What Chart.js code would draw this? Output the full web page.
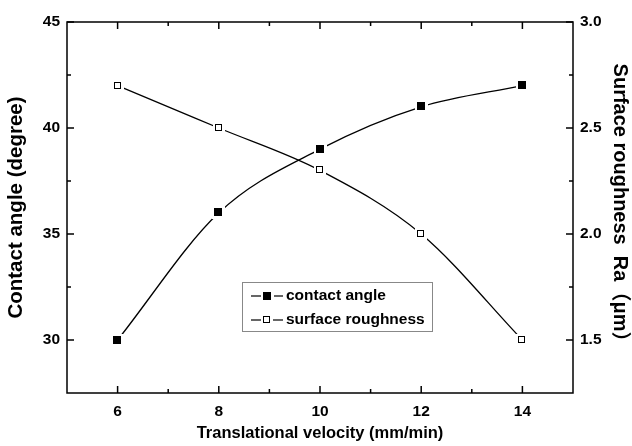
<!DOCTYPE html>
<html>
<head>
<meta charset="utf-8">
<script src="https://cdn.jsdelivr.net/npm/chart.js@4/dist/chart.umd.min.js"></script>
<style>
  body { margin: 0; background: #fff; }
  #myChart { display: block; }
</style>
</head>
<body>
<canvas id="myChart" width="632" height="446"></canvas>
<script>
// data
const velocity = [6, 8, 10, 12, 14];
const contactAngle = [30, 36, 39, 41, 42];
const roughness = [2.7, 2.5, 2.3, 2.0, 1.5];

const xTicks = [6, 8, 10, 12, 14];
const angleTicks = [30, 35, 40, 45];
const roughTicks = [1.5, 2.0, 2.5, 3.0];

const FONT = "'Liberation Sans', Arial, 'Noto Sans CJK SC', sans-serif";
const ctx = document.getElementById("myChart");

const toPoints = (xs, ys) => xs.map((x, i) => ({ x: x, y: ys[i] }));
const midpoints = (arr) => arr.slice(1).map((v, i) => (v + arr[i]) / 2);

// square markers with a white halo so the line stops short of them
const makeMarker = (filled) => {
  const c = document.createElement("canvas");
  const size = filled ? 13 : 12;
  const s = filled ? 8 : 7;
  c.width = size;
  c.height = size;
  const g = c.getContext("2d");
  g.fillStyle = "#fff";
  g.fillRect(0, 0, size, size);
  const o = Math.floor((size - s) / 2);
  if (filled) {
    g.fillStyle = "#000";
    g.fillRect(o, o, s, s);
  } else {
    g.strokeStyle = "#000";
    g.lineWidth = 1;
    g.strokeRect(o + 0.5, o + 0.5, s - 1, s - 1);
  }
  return c;
};
const filledMarker = makeMarker(true);
const hollowMarker = makeMarker(false);

// keep the marker images crisp
const crispPoints = {
  id: "crispPoints",
  beforeDatasetsDraw(chart) {
    chart.ctx.imageSmoothingEnabled = false;
  },
  afterDatasetsDraw(chart) {
    chart.ctx.imageSmoothingEnabled = true;
  },
};

// inward ticks on all four sides + frame
const framePlugin = {
  id: "frame",
  afterDraw(chart) {
    const { ctx, chartArea: a, scales } = chart;
    ctx.save();
    ctx.strokeStyle = "#000";
    ctx.lineWidth = 1.5;
    ctx.beginPath();
    const tick = (x1, y1, x2, y2) => {
      ctx.moveTo(x1, y1);
      ctx.lineTo(x2, y2);
    };
    xTicks.forEach((v) => {
      const px = scales.x.getPixelForValue(v);
      tick(px, a.bottom, px, a.bottom - 7);
      tick(px, a.top, px, a.top + 7);
    });
    midpoints(xTicks).forEach((v) => {
      const px = scales.x.getPixelForValue(v);
      tick(px, a.bottom, px, a.bottom - 4);
      tick(px, a.top, px, a.top + 4);
    });
    angleTicks.forEach((v) => {
      const py = scales.y.getPixelForValue(v);
      tick(a.left, py, a.left + 7, py);
    });
    midpoints(angleTicks).forEach((v) => {
      const py = scales.y.getPixelForValue(v);
      tick(a.left, py, a.left + 4, py);
    });
    roughTicks.forEach((v) => {
      const py = scales.y1.getPixelForValue(v);
      tick(a.right, py, a.right - 7, py);
    });
    midpoints(roughTicks).forEach((v) => {
      const py = scales.y1.getPixelForValue(v);
      tick(a.right, py, a.right - 4, py);
    });
    ctx.stroke();
    ctx.strokeRect(a.left, a.top, a.right - a.left, a.bottom - a.top);
    ctx.restore();
  },
};

// legend box inside the plot
const legendBox = {
  id: "legendBox",
  afterDraw(chart) {
    const { ctx } = chart;
    const x0 = 242, y0 = 282, w = 190, h = 49;
    ctx.save();
    ctx.fillStyle = "#fff";
    ctx.fillRect(x0, y0, w, h);
    ctx.strokeStyle = "#888";
    ctx.lineWidth = 1;
    ctx.strokeRect(x0 + 0.5, y0 + 0.5, w, h);
    chart.data.datasets.forEach((ds, i) => {
      const cy = y0 + 14 + i * 24;
      ctx.strokeStyle = "#000";
      ctx.lineWidth = 1.2;
      ctx.beginPath();
      ctx.moveTo(251, cy);
      ctx.lineTo(283, cy);
      ctx.stroke();
      const img = ds.pointStyle;
      ctx.drawImage(img, Math.round(267 - img.width / 2), Math.round(cy - img.height / 2));
      ctx.fillStyle = "#000";
      ctx.font = "bold 15.5px " + FONT;
      ctx.textBaseline = "middle";
      ctx.fillText(ds.label, 286, cy);
    });
    ctx.restore();
  },
};

const tickFont = { family: FONT, size: 15.5, weight: "bold" };
const titleFont = { family: FONT, size: 16.5, weight: "bold" };
const yTitleFont = { family: FONT, size: 20.5, weight: "bold" };

new Chart(ctx, {
  type: "line",
  data: {
    datasets: [
      {
        label: "contact angle",
        data: toPoints(velocity, contactAngle),
        yAxisID: "y",
        borderColor: "#000",
        borderWidth: 1.3,
        pointStyle: filledMarker,
        cubicInterpolationMode: "monotone",
      },
      {
        label: "surface roughness",
        data: toPoints(velocity, roughness),
        yAxisID: "y1",
        borderColor: "#000",
        borderWidth: 1.3,
        pointStyle: hollowMarker,
        cubicInterpolationMode: "monotone",
      },
    ],
  },
  options: {
    responsive: false,
    animation: false,
    layout: { padding: { top: 22, left: 0, right: 0, bottom: 0 } },
    plugins: {
      legend: { display: false },
      tooltip: { enabled: false },
    },
    scales: {
      x: {
        type: "linear",
        min: 5,
        max: 15,
        afterBuildTicks: (s) => { s.ticks = xTicks.map((v) => ({ value: v })); },
        afterFit: (s) => { s.height = 53; },
        grid: { display: false, drawTicks: false },
        border: { display: false },
        ticks: { color: "#000", font: tickFont, padding: 9, maxRotation: 0 },
        title: {
          display: true,
          text: "Translational velocity (mm/min)",
          color: "#000",
          font: titleFont,
          padding: { top: 0, bottom: 3 },
        },
      },
      y: {
        position: "left",
        min: 27.5,
        max: 45,
        afterBuildTicks: (s) => { s.ticks = angleTicks.map((v) => ({ value: v })); },
        afterFit: (s) => { s.width = 67; },
        grid: { display: false, drawTicks: false },
        border: { display: false },
        ticks: { color: "#000", font: tickFont, padding: 7 },
        title: {
          display: true,
          text: "Contact angle (degree)",
          color: "#000",
          font: yTitleFont,
          padding: { top: 4, bottom: 0 },
        },
      },
      y1: {
        position: "right",
        min: 1.25,
        max: 3.0,
        afterBuildTicks: (s) => { s.ticks = roughTicks.map((v) => ({ value: v })); },
        afterFit: (s) => { s.width = 59; },
        grid: { display: false, drawTicks: false },
        border: { display: false },
        ticks: {
          color: "#000",
          font: tickFont,
          padding: 7,
          callback: (v) => Number(v).toFixed(1),
        },
        title: {
          display: true,
          text: "Surface roughness  Ra（μm）",
          color: "#000",
          font: { family: FONT, size: 20, weight: "bold" },
          padding: { top: 0, bottom: 0 },
        },
      },
    },
  },
  plugins: [crispPoints, framePlugin, legendBox],
});
</script>
</body>
</html>
